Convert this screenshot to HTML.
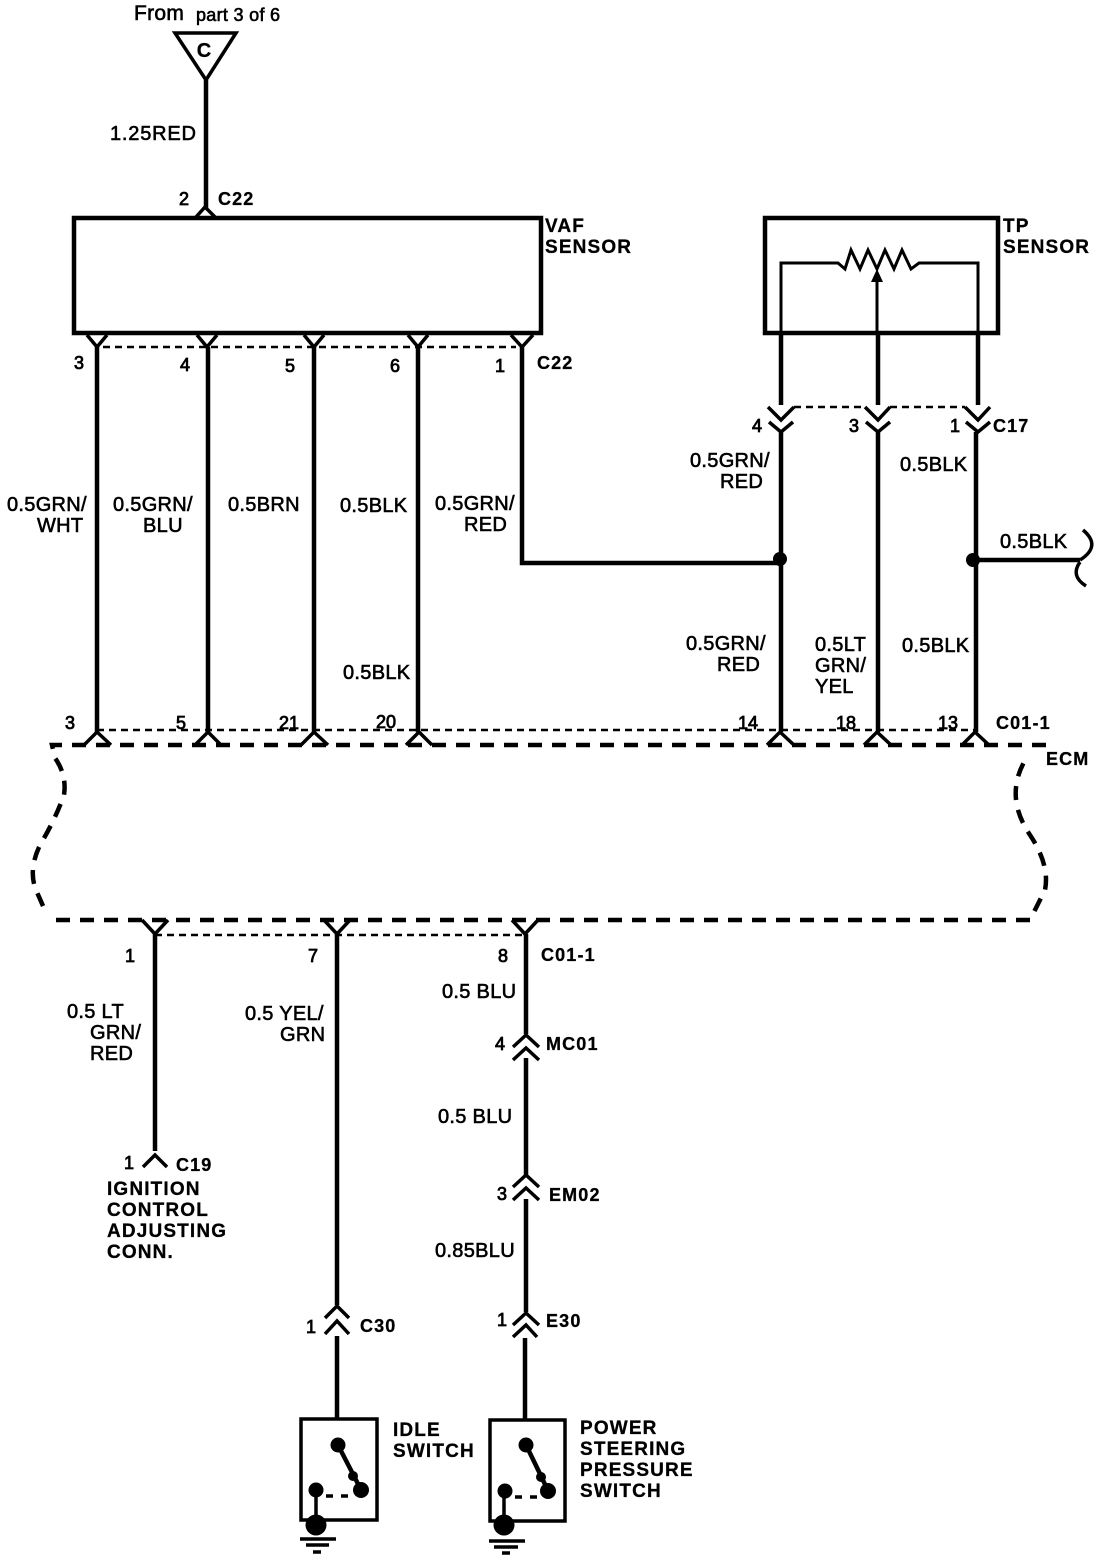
<!DOCTYPE html>
<html><head><meta charset="utf-8"><style>
html,body{margin:0;padding:0;background:#fff}
svg{display:block}
text{font-family:"Liberation Sans",sans-serif;font-size:20px;fill:#000;stroke:#000;stroke-width:.6;letter-spacing:.3px}
.b{font-weight:bold;stroke-width:.3;letter-spacing:1.15px}
.n{font-size:18px;stroke-width:.8;letter-spacing:0}
.w{fill:none;stroke:#000;stroke-width:4.5}
.c{fill:none;stroke:#000;stroke-width:3.5}
.d{fill:none;stroke:#000;stroke-width:2.5;stroke-dasharray:7 5}
.D{fill:none;stroke:#000;stroke-width:4.5;stroke-dasharray:14 10}
</style></head><body>
<svg width="1120" height="1560" viewBox="0 0 1120 1560" xmlns="http://www.w3.org/2000/svg">
<rect width="1120" height="1560" fill="#fff"/>
<!-- top connector -->
<path class="c" d="M175 33H236L206 80Z"/>
<path class="w" d="M206 80V208"/>
<path class="c" d="M196 217L205 207L215 217"/>
<!-- VAF -->
<rect class="w" x="74" y="218" width="467" height="115"/>
<path class="c" d="M87 335L97 347L107 335M197 335L207 347L217 335M304 335L314 347L324 335M408 335L418 347L428 335M511 335L522 347L533 335"/>
<path class="d" d="M103 347H516"/>
<path class="w" d="M97 347V732M208 347V732M314 347V732M418 347V732"/>
<path class="w" d="M522 347V563H780"/>
<!-- TP -->
<rect class="w" x="765" y="218" width="233" height="115"/>
<path class="c" style="stroke-width:3" d="M781 333V263H838L845 269L851 250L860 269L868 250L877 269L885 250L894 269L902 250L911 269L919 263H978V333"/>
<path class="c" style="stroke-width:3" d="M877 333V280"/>
<path d="M877 269L883 282H871Z" fill="#000"/>
<path class="w" d="M781 333V405M878 333V405M978 333V405"/>
<path class="c" d="M768 407L781 420L794 407M769 422L781 432L793 422M865 407L878 420L890 407M866 422L878 432L890 422M965 407L978 420L990 407M966 422L978 432L990 422"/>
<path class="d" d="M794 407H865M890 407H965"/>
<path class="w" d="M781 432V732M878 432V732M976 432V732"/>
<circle cx="780" cy="559" r="7" fill="#000"/><circle cx="973" cy="560" r="7" fill="#000"/>
<path class="w" d="M973 560H1080"/>
<path class="c" d="M1083 530Q1102 546 1080 560M1080 562Q1070 576 1086 586"/>
<!-- ECM -->
<path class="D" d="M1046 745H52L55 758Q67 775 64 795Q55 820 40 845Q28 870 36 890L47 915"/>
<path class="D" d="M56 920H1030L1045 890Q1050 865 1030 835Q1003 795 1027 757"/>
<path class="d" d="M97 730H975"/>
<path class="c" d="M84 745L97 732L111 745M195 745L208 732L221 745M301 745L314 732L328 745M406 745L419 732L432 745M767 745L780 732L794 745M864 745L877 732L891 745M962 745L975 732L989 745"/>
<path class="c" d="M142 920L155 934L168 920M324 920L337 934L350 920M512 920L525 934L538 920"/>
<path class="d" d="M155 935H525"/>
<path class="w" d="M155 934V1151M337 934V1305M526 934V1034M526 1058V1175M526 1199V1312M525 1338V1420M337 1336V1420"/>
<path class="c" d="M143 1167L155 1155L167 1167"/>
<path class="c" d="M325 1318L337 1306L349 1318M325 1334L337 1321L349 1334"/>
<path class="c" d="M513 1047L526 1035L539 1047M513 1060L526 1048L539 1060M513 1187L526 1175L539 1187M513 1200L526 1188L539 1200M513 1325L526 1313L539 1325M513 1337L526 1325L537 1337"/>
<!-- idle switch -->
<rect class="c" x="301" y="1419" width="76" height="101"/>
<circle cx="338" cy="1445" r="7.5" fill="#000"/>
<path class="w" d="M339 1447L355 1478L361 1490"/>
<circle cx="353" cy="1476" r="5" fill="#000"/>
<circle cx="361" cy="1490" r="8" fill="#000"/>
<circle cx="316" cy="1490" r="7.5" fill="#000"/>
<path class="c" style="stroke-dasharray:7 8" d="M326 1496H352"/>
<path class="c" d="M316 1490V1525"/>
<circle cx="316" cy="1525" r="10.5" fill="#000"/>
<path class="c" d="M300 1539H336"/><path class="c" d="M306 1545H329"/><path class="c" d="M313 1552H321"/>
<!-- PS switch -->
<rect class="c" x="490" y="1420" width="75" height="101"/>
<circle cx="526" cy="1445" r="7.5" fill="#000"/>
<path class="w" d="M527 1447L542 1478L548 1491"/>
<circle cx="541" cy="1477" r="5" fill="#000"/>
<circle cx="548" cy="1491" r="8" fill="#000"/>
<circle cx="505" cy="1491" r="7.5" fill="#000"/>
<path class="c" style="stroke-dasharray:7 8" d="M515 1497H541"/>
<path class="c" d="M504 1491V1525"/>
<circle cx="504" cy="1525" r="10.5" fill="#000"/>
<path class="c" d="M489 1541H525"/><path class="c" d="M494 1547H518"/><path class="c" d="M502 1553H510"/>
<!-- labels -->
<text x="134" y="20" style="font-size:21px">From</text><text x="196" y="21" style="font-size:18px">part 3 of 6</text>
<text x="204" y="57" class="b" text-anchor="middle" style="font-size:20px;letter-spacing:0">C</text>
<text x="110" y="140" style="letter-spacing:.8px">1.25RED</text>
<text x="179" y="205" class="n">2</text><text x="218" y="205" class="b" style="font-size:18px">C22</text>
<text x="545" y="232" class="b" style="font-size:19px">VAF</text><text x="545" y="253" class="b" style="font-size:19px">SENSOR</text>
<text x="1003" y="232" class="b" style="font-size:19px">TP</text><text x="1003" y="253" class="b" style="font-size:19px">SENSOR</text>
<text x="74" y="369" class="n">3</text><text x="180" y="371" class="n">4</text><text x="285" y="372" class="n">5</text><text x="390" y="372" class="n">6</text><text x="495" y="372" class="n">1</text>
<text x="537" y="369" class="b" style="font-size:18px">C22</text>
<text x="7" y="511">0.5GRN/</text><text x="37" y="532">WHT</text>
<text x="113" y="511">0.5GRN/</text><text x="143" y="532">BLU</text>
<text x="228" y="511">0.5BRN</text>
<text x="340" y="512">0.5BLK</text>
<text x="435" y="510">0.5GRN/</text><text x="464" y="531">RED</text>
<text x="343" y="679">0.5BLK</text>
<text x="752" y="432" class="n">4</text><text x="849" y="432" class="n">3</text><text x="950" y="432" class="n">1</text>
<text x="993" y="432" class="b" style="font-size:18px">C17</text>
<text x="690" y="467">0.5GRN/</text><text x="720" y="488">RED</text>
<text x="900" y="471">0.5BLK</text>
<text x="1000" y="548">0.5BLK</text>
<text x="686" y="650">0.5GRN/</text><text x="717" y="671">RED</text>
<text x="815" y="651">0.5LT</text><text x="815" y="672">GRN/</text><text x="815" y="693">YEL</text>
<text x="902" y="652">0.5BLK</text>
<text x="65" y="729" class="n">3</text><text x="176" y="729" class="n">5</text><text x="279" y="729" class="n">21</text><text x="376" y="728" class="n">20</text><text x="738" y="729" class="n">14</text><text x="836" y="729" class="n">18</text><text x="938" y="729" class="n">13</text>
<text x="996" y="729" class="b" style="font-size:18px">C01-1</text>
<text x="1046" y="765" class="b" style="font-size:18px">ECM</text>
<text x="125" y="962" class="n">1</text><text x="308" y="962" class="n">7</text><text x="498" y="962" class="n">8</text>
<text x="541" y="961" class="b" style="font-size:18px">C01-1</text>
<text x="67" y="1018">0.5 LT</text><text x="90" y="1039">GRN/</text><text x="90" y="1060">RED</text>
<text x="245" y="1020">0.5 YEL/</text><text x="280" y="1041">GRN</text>
<text x="442" y="998">0.5 BLU</text>
<text x="495" y="1050" class="n">4</text><text x="546" y="1050" class="b" style="font-size:18px">MC01</text>
<text x="438" y="1123">0.5 BLU</text>
<text x="497" y="1200" class="n">3</text><text x="549" y="1201" class="b" style="font-size:18px">EM02</text>
<text x="435" y="1257">0.85BLU</text>
<text x="497" y="1326" class="n">1</text><text x="546" y="1327" class="b" style="font-size:18px">E30</text>
<text x="306" y="1333" class="n">1</text><text x="360" y="1332" class="b" style="font-size:18px">C30</text>
<text x="124" y="1169" class="n">1</text><text x="176" y="1171" class="b" style="font-size:18px">C19</text>
<text x="107" y="1195" class="b" style="font-size:19px">IGNITION</text>
<text x="107" y="1216" class="b" style="font-size:19px">CONTROL</text>
<text x="107" y="1237" class="b" style="font-size:19px">ADJUSTING</text>
<text x="107" y="1258" class="b" style="font-size:19px">CONN.</text>
<text x="393" y="1436" class="b" style="font-size:19px">IDLE</text>
<text x="393" y="1457" class="b" style="font-size:19px">SWITCH</text>
<text x="580" y="1434" class="b" style="font-size:19px">POWER</text>
<text x="580" y="1455" class="b" style="font-size:19px">STEERING</text>
<text x="580" y="1476" class="b" style="font-size:19px">PRESSURE</text>
<text x="580" y="1497" class="b" style="font-size:19px">SWITCH</text>
</svg>
</body></html>
